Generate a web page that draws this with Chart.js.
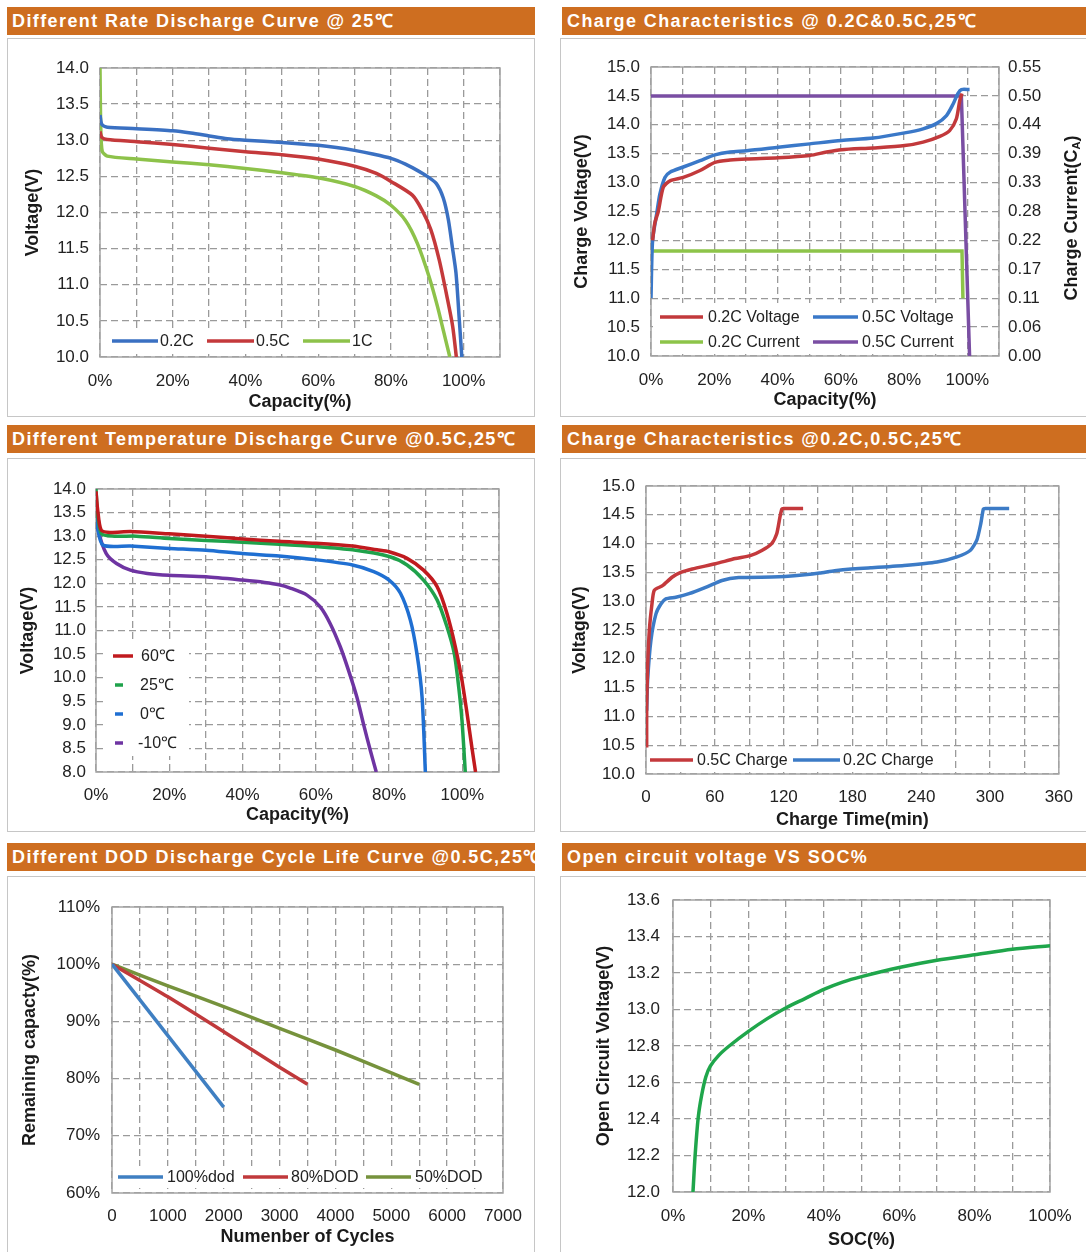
<!DOCTYPE html>
<html><head><meta charset="utf-8">
<script src="https://cdn.jsdelivr.net/npm/chart.js@4.4.1/dist/chart.umd.min.js"></script>
<style>
html,body{margin:0;padding:0;background:#fff;}
body{width:1086px;height:1252px;position:relative;overflow:hidden;font-family:"Liberation Sans",Arial,sans-serif;}
.hdr{position:absolute;height:28px;line-height:29px;background:#CE6E20;color:#fff;font-weight:bold;font-size:18px;letter-spacing:1.4px;padding-left:5px;box-sizing:border-box;white-space:nowrap;overflow:hidden;}
.box{position:absolute;border:1px solid #c6c6c6;box-sizing:border-box;background:#fff;}
canvas{position:absolute;}
</style></head><body>
<div class="hdr" style="left:7px;top:7px;width:528px">Different Rate Discharge Curve @ 25℃</div>
<div class="hdr" style="left:562px;top:7px;width:524px">Charge Characteristics @ 0.2C&amp;0.5C,25℃</div>
<div class="hdr" style="left:7px;top:425px;width:528px">Different Temperature Discharge Curve @0.5C,25℃</div>
<div class="hdr" style="left:562px;top:425px;width:524px">Charge Characteristics @0.2C,0.5C,25℃</div>
<div class="hdr" style="left:7px;top:843px;width:528px">Different DOD Discharge Cycle Life Curve @0.5C,25℃</div>
<div class="hdr" style="left:562px;top:843px;width:524px">Open circuit voltage VS SOC%</div>

<div class="box" style="left:7px;top:38px;width:528px;height:379px"></div>
<div class="box" style="left:560px;top:38px;width:528px;height:379px"></div>
<div class="box" style="left:7px;top:458px;width:528px;height:374px"></div>
<div class="box" style="left:560px;top:458px;width:528px;height:374px"></div>
<div class="box" style="left:7px;top:876px;width:528px;height:380px"></div>
<div class="box" style="left:560px;top:876px;width:528px;height:380px"></div>

<canvas id="c1" width="528" height="379" style="left:7px;top:38px"></canvas>
<canvas id="c2" width="526" height="379" style="left:560px;top:38px"></canvas>
<canvas id="c3" width="528" height="374" style="left:7px;top:458px"></canvas>
<canvas id="c4" width="526" height="374" style="left:560px;top:458px"></canvas>
<canvas id="c5" width="528" height="376" style="left:7px;top:876px"></canvas>
<canvas id="c6" width="526" height="376" style="left:560px;top:876px"></canvas>

<script>
// ---------- Panel 1: Different Rate Discharge Curve ----------
const p1_capTicks = [0,10,20,30,40,50,60,70,80,90,100,110];
const p1_voltTicks = [10,10.5,11,11.5,12,12.5,13,13.5,14];
const p1_c02_cap = [0,0.5,2,10,20,25,30,35,40,50,60,65,70,75,80,84,87,90,92.5,94.4,95.8,96.9,97.9,98.8,99.5];
const p1_c02_v   = [13.35,13.22,13.18,13.16,13.13,13.10,13.06,13.02,13.0,12.97,12.93,12.90,12.86,12.81,12.75,12.67,12.59,12.50,12.40,12.20,11.90,11.52,11.16,10.52,10.0];
const p1_c05_cap = [0,0.5,2,10,20,30,40,50,60,70,76,80,85.9,88.6,91,93.3,95.6,97,98];
const p1_c05_v   = [13.12,13.04,13.01,12.98,12.94,12.89,12.84,12.80,12.74,12.64,12.54,12.43,12.24,12.03,11.76,11.34,10.79,10.42,10.0];
const p1_c1_cap  = [0,0.2,0.6,2,10,20,30,40,50,60,70,76,80,84,87.3,90.5,92.8,94.6,96.2];
const p1_c1_v    = [14.0,13.2,12.85,12.78,12.74,12.70,12.66,12.61,12.55,12.48,12.36,12.23,12.10,11.89,11.57,11.11,10.70,10.33,10.0];

// ---------- Panel 2: Charge Characteristics vs capacity ----------
const p2_capTicks = [0,10,20,30,40,50,60,70,80,90,100,110];
const p2_voltTicks = [10,10.5,11,11.5,12,12.5,13,13.5,14,14.5,15];
const p2_curTicks = [0,0.055,0.11,0.165,0.22,0.275,0.33,0.385,0.44,0.495,0.55];
const p2_curLabels = ['0.00','0.06','0.11','0.17','0.22','0.28','0.33','0.39','0.44','0.50','0.55'];
const p2_v02_cap = [0.5,1.2,2.3,3.9,6,10.2,15.5,20.2,25,30.2,40.2,50.2,55.5,60.2,70.2,80.2,86,91.3,94.4,96.5,97.6,98.3];
const p2_v02_v   = [12.0,12.3,12.5,12.92,13.03,13.09,13.21,13.35,13.39,13.41,13.43,13.47,13.53,13.57,13.60,13.64,13.70,13.80,13.90,14.10,14.42,14.54];
const p2_v05_cap = [0,0.5,1.8,2.8,4.4,6,10.2,15.5,20.2,25,30.2,40.2,50.2,60.2,70.2,80.2,86,90.2,93.4,95.5,97,98.1,100.7];
const p2_v05_v   = [11.0,12.0,12.46,12.8,13.09,13.18,13.27,13.38,13.48,13.53,13.55,13.61,13.67,13.73,13.77,13.86,13.93,14.02,14.16,14.36,14.54,14.61,14.61];
const p2_i02_cap = [0,98.3,98.6];
const p2_i02_c   = [0.2,0.2,0.11];
const p2_i05_cap = [0,98.1,100.7];
const p2_i05_c   = [0.495,0.495,0];

// ---------- Panel 3: Different Temperature Discharge ----------
const p3_capTicks = [0,10,20,30,40,50,60,70,80,90,100,110];
const p3_voltTicks = [8,8.5,9,9.5,10,10.5,11,11.5,12,12.5,13,13.5,14];
const p3_t60_cap = [0,0.4,1.4,3.8,9.4,20,30,40,50,60,70,76.7,80,84.9,89.4,93.1,95.8,98.1,99.9,101.3,102.6,103.6];
const p3_t60_v   = [13.95,13.6,13.13,13.08,13.10,13.05,13.0,12.94,12.89,12.85,12.79,12.71,12.67,12.53,12.28,11.93,11.36,10.65,9.94,9.23,8.52,8.0];
const p3_t25_cap = [0,0.4,1.5,5,11,20,30,40,50,60,70,80,84.9,89.4,93.1,95.8,97.8,99,99.9,100.8];
const p3_t25_v   = [14.0,13.5,13.05,13.0,13.0,12.95,12.91,12.87,12.83,12.78,12.71,12.57,12.39,12.07,11.65,11.08,10.51,9.80,9.09,8.0];
const p3_t0_cap  = [0,0.4,1.9,9.4,20,30,40,50,60,70,75.8,80,83.1,85.8,87.6,89,89.9];
const p3_t0_v    = [13.65,13.2,12.81,12.79,12.74,12.70,12.63,12.58,12.50,12.39,12.25,12.07,11.79,11.22,10.51,9.59,8.0];
const p3_tm10_cap = [0,0.6,2.8,5.6,9.4,14,20,30,40,46,50,53,57.6,61.2,63.9,66.7,68.9,71.2,73,74.9,76.5];
const p3_tm10_v   = [13.56,13.13,12.63,12.42,12.28,12.21,12.17,12.14,12.07,12.02,11.97,11.9,11.75,11.5,11.15,10.65,10.16,9.59,9.02,8.45,8.0];

// ---------- Panel 4: Charge Characteristics vs time ----------
const p4_timeTicks = [0,30,60,90,120,150,180,210,240,270,300,330,360];
const p4_voltTicks = [10,10.5,11,11.5,12,12.5,13,13.5,14,14.5,15];
const p4_c05_t = [0.6,0.6,1.4,2.9,5.2,7.2,14.4,23,30.3,40.4,60.6,77.9,90.9,101,109.6,114,116.8,118.5,120,137];
const p4_c05_v = [10.46,11.16,11.85,12.49,12.95,13.19,13.27,13.42,13.5,13.56,13.65,13.74,13.79,13.88,14.0,14.17,14.46,14.6,14.61,14.61];
const p4_c02_t = [0.6,1.4,4.3,8.7,13,17.3,26,37.5,52,66.3,80.8,109.6,121,138.5,151.4,164.4,178.8,196,225,253.8,271.2,282.7,288.5,292,294.2,296,316.7];
const p4_c02_v = [11.1,11.62,12.32,12.78,12.95,13.04,13.07,13.13,13.24,13.36,13.41,13.42,13.43,13.46,13.49,13.53,13.56,13.58,13.62,13.68,13.77,13.88,14.06,14.35,14.6,14.61,14.61];

// ---------- Panel 5: DOD cycle life ----------
const p5_cycleTicks = [0,500,1000,1500,2000,2500,3000,3500,4000,4500,5000,5500,6000,6500,7000];
const p5_capTicks = [60,70,80,90,100,110];
const p5_d100_n = [0,2000];
const p5_d100_c = [100,75];
const p5_d80_n = [0,1000,2000,3000,3500];
const p5_d80_c = [100,94.3,88.2,82,79];
const p5_d50_n = [0,1000,2000,3000,4000,5000,5500];
const p5_d50_c = [100,96.2,92.6,88.8,85.0,81.0,79];

// ---------- Panel 6: OCV vs SOC ----------
const p6_socTicks = [0,10,20,30,40,50,60,70,80,90,100];
const p6_ocvTicks = [12.0,12.2,12.4,12.6,12.8,13.0,13.2,13.4,13.6];
const p6_soc = [5.3,5.9,6.7,7.6,8.7,9.9,12.2,14.9,20,25,30,35,40,45,50,60,70,80,90,100];
const p6_ocv = [12.0,12.21,12.41,12.53,12.63,12.69,12.75,12.80,12.88,12.95,13.01,13.06,13.11,13.15,13.18,13.23,13.27,13.30,13.33,13.35];

// ---------- helpers ----------
const FONT = '"Liberation Sans", Arial, sans-serif';
Chart.defaults.font.family = FONT;
const GRID = '#9a9a9a', TICK = '#222222', TITLE = '#1a1a1a';
const pts = (xs, ys) => xs.map((x, i) => ({x: x, y: ys[i]}));
const line = (label, xs, ys, color, tension, yAxisID) => ({
  label, data: pts(xs, ys), showLine: true, borderColor: color, backgroundColor: color,
  borderWidth: 3.5, pointRadius: 0, tension: tension, yAxisID: yAxisID || 'y'
});
const v1 = v => v.toFixed(1);
const pct20 = v => (v % 20 === 0 && v <= 100) ? v + '%' : '';

function xAxis(tickVals, fmt, title, h, tp, tb) {
  return {
    type: 'linear', position: 'bottom',
    min: tickVals[0], max: tickVals[tickVals.length - 1],
    afterBuildTicks: s => { s.ticks = tickVals.map(v => ({value: v})); },
    afterFit: s => { s.height = h; },
    grid: {color: GRID, lineWidth: 1.3, drawTicks: false},
    border: {display: false, dash: [7, 4]},
    ticks: {autoSkip: false, maxRotation: 0, padding: tp, color: TICK, font: {size: 17}, callback: fmt},
    title: {display: true, text: title, color: TITLE, font: {size: 18, weight: 'bold'}, padding: {top: 0, bottom: tb}}
  };
}
function yAxis(tickVals, fmt, title, w, tp, ttop, pos, grid) {
  return {
    type: 'linear', position: pos || 'left',
    min: tickVals[0], max: tickVals[tickVals.length - 1],
    afterBuildTicks: s => { s.ticks = tickVals.map(v => ({value: v})); },
    afterFit: s => { s.width = w; },
    grid: {display: grid !== false, color: GRID, lineWidth: 1.3, drawTicks: false},
    border: {display: false, dash: [7, 4]},
    ticks: {autoSkip: false, padding: tp, color: TICK, font: {size: 17}, callback: fmt},
    title: {display: !!title, text: title || '', color: TITLE, font: {size: 18, weight: 'bold'}, padding: {top: ttop, bottom: 0}}
  };
}
const framePlugin = {
  id: 'frame',
  beforeDatasetsDraw(chart) {
    const a = chart.chartArea, ctx = chart.ctx;
    ctx.save(); ctx.strokeStyle = '#a4a4a4'; ctx.lineWidth = 1.5;
    ctx.strokeRect(a.left, a.top, a.right - a.left, a.bottom - a.top);
    ctx.restore();
  }
};
function legendPlugin(id, box, items) {
  return {
    id,
    beforeDatasetsDraw(chart) {
      const ctx = chart.ctx; ctx.save();
      ctx.fillStyle = '#fff'; ctx.fillRect(box.x, box.y, box.w, box.h);
      items.forEach(it => {
        const ds = chart.data.datasets[it.ds];
        ctx.strokeStyle = ds.borderColor; ctx.lineWidth = 3.5; ctx.lineCap = 'butt';
        ctx.beginPath(); ctx.moveTo(it.x1, it.y); ctx.lineTo(it.x2, it.y); ctx.stroke();
        ctx.fillStyle = '#222'; ctx.font = '16px ' + FONT; ctx.textBaseline = 'middle'; ctx.textAlign = 'left';
        ctx.fillText(ds.label, it.tx, it.y + 1);
      });
      ctx.restore();
    }
  };
}
function baseOpts(pad, scales) {
  return {
    responsive: false, animation: false, devicePixelRatio: 1,
    layout: {padding: pad},
    plugins: {legend: {display: false}, tooltip: {enabled: false}},
    scales: scales
  };
}

// ---------- Chart 1 ----------
new Chart(document.getElementById('c1'), {
  type: 'scatter',
  data: {datasets: [
    line('0.2C', p1_c02_cap, p1_c02_v, '#3A70C2', 0.25),
    line('0.5C', p1_c05_cap, p1_c05_v, '#C4393B', 0.25),
    line('1C', p1_c1_cap, p1_c1_v, '#8DC24A', 0.25)
  ]},
  options: baseOpts({top: 30, right: 35, left: 0, bottom: 0}, {
    x: xAxis(p1_capTicks, pct20, 'Capacity(%)', 60, 14, 4),
    y: yAxis(p1_voltTicks, v1, 'Voltage(V)', 93, 11, 15)
  }),
  plugins: [framePlugin, legendPlugin('lg1', {x: 98, y: 292, w: 285, h: 22}, [
    {ds: 0, x1: 105, x2: 151, tx: 153, y: 303},
    {ds: 1, x1: 200, x2: 247, tx: 249, y: 303},
    {ds: 2, x1: 296, x2: 343, tx: 345, y: 303}
  ])]
});

// ---------- Chart 2 ----------
const rightTitlePlugin = {
  id: 'rtitle',
  afterDraw(chart) {
    const ctx = chart.ctx; ctx.save();
    ctx.translate(512, 180); ctx.rotate(-Math.PI / 2);
    ctx.fillStyle = TITLE; ctx.textBaseline = 'middle'; ctx.textAlign = 'left';
    const big = 'bold 18px ' + FONT, small = 'bold 11px ' + FONT;
    ctx.font = big; const w1 = ctx.measureText('Charge Current(C').width; const w3 = ctx.measureText(')').width;
    ctx.font = small; const w2 = ctx.measureText('A').width;
    let x = -(w1 + w2 + w3) / 2;
    ctx.font = big; ctx.fillText('Charge Current(C', x, 0); x += w1;
    ctx.font = small; ctx.fillText('A', x, 5); x += w2;
    ctx.font = big; ctx.fillText(')', x, 0);
    ctx.restore();
  }
};
new Chart(document.getElementById('c2'), {
  type: 'scatter',
  data: {datasets: [
    line('0.2C Voltage', p2_v02_cap, p2_v02_v, '#C2393B', 0.25),
    line('0.5C Voltage', p2_v05_cap, p2_v05_v, '#3A78C8', 0.25),
    line('0.2C Current', p2_i02_cap, p2_i02_c, '#8DC449', 0, 'y2'),
    line('0.5C Current', p2_i05_cap, p2_i05_c, '#7A4EA3', 0, 'y2')
  ]},
  options: baseOpts({top: 29, right: 0, left: 0, bottom: 0}, {
    x: xAxis(p2_capTicks, pct20, 'Capacity(%)', 61, 14, 6),
    y: yAxis(p2_voltTicks, v1, 'Charge Voltage(V)', 91, 11, 11),
    y2: yAxis(p2_curTicks, (v, i) => p2_curLabels[i], '', 87, 9, 0, 'right', false)
  }),
  plugins: [framePlugin, legendPlugin('lg2', {x: 93, y: 265, w: 309, h: 51}, [
    {ds: 0, x1: 100, x2: 143, tx: 148, y: 279},
    {ds: 1, x1: 253, x2: 298, tx: 302, y: 279},
    {ds: 2, x1: 100, x2: 143, tx: 148, y: 304},
    {ds: 3, x1: 253, x2: 298, tx: 302, y: 304}
  ]), rightTitlePlugin]
});

// ---------- Chart 3 ----------
new Chart(document.getElementById('c3'), {
  type: 'scatter',
  data: {datasets: [
    line('60℃', p3_t60_cap, p3_t60_v, '#C01A1E', 0.25),
    line('25℃', p3_t25_cap, p3_t25_v, '#1FA24B', 0.25),
    line('0℃', p3_t0_cap, p3_t0_v, '#1F6FD2', 0.25),
    line('-10℃', p3_tm10_cap, p3_tm10_v, '#6E34A2', 0.25)
  ]},
  options: baseOpts({top: 31, right: 36, left: 0, bottom: 0}, {
    x: xAxis(p3_capTicks, pct20, 'Capacity(%)', 60, 13, 6),
    y: yAxis(p3_voltTicks, v1, 'Voltage(V)', 89, 10, 10)
  }),
  plugins: [framePlugin, legendPlugin('lg3', {x: 96, y: 185, w: 86, h: 113}, [
    {ds: 0, x1: 106, x2: 126, tx: 134, y: 198},
    {ds: 1, x1: 108, x2: 116, tx: 133, y: 227},
    {ds: 2, x1: 108, x2: 116, tx: 133, y: 256},
    {ds: 3, x1: 108, x2: 116, tx: 131, y: 285}
  ])]
});

// ---------- Chart 4 ----------
new Chart(document.getElementById('c4'), {
  type: 'scatter',
  data: {datasets: [
    line('0.5C Charge', p4_c05_t, p4_c05_v, '#C4393C', 0.2),
    line('0.2C Charge', p4_c02_t, p4_c02_v, '#3C7BC6', 0.2)
  ]},
  options: baseOpts({top: 28, right: 23, left: 0, bottom: 0}, {
    x: xAxis(p4_timeTicks, v => v % 60 === 0 ? String(v) : '', 'Charge Time(min)', 58, 13, 1),
    y: yAxis(p4_voltTicks, v1, 'Voltage(V)', 86, 11, 9)
  }),
  plugins: [framePlugin, legendPlugin('lg4', {x: 88, y: 292, w: 292, h: 21}, [
    {ds: 0, x1: 90, x2: 133, tx: 137, y: 302},
    {ds: 1, x1: 233, x2: 280, tx: 283, y: 302}
  ])]
});

// ---------- Chart 5 ----------
new Chart(document.getElementById('c5'), {
  type: 'scatter',
  data: {datasets: [
    line('100%dod', p5_d100_n, p5_d100_c, '#3F7FC2', 0),
    line('80%DOD', p5_d80_n, p5_d80_c, '#C0393B', 0.2),
    line('50%DOD', p5_d50_n, p5_d50_c, '#76923C', 0.2)
  ]},
  options: baseOpts({top: 31, right: 32, left: 0, bottom: 0}, {
    x: xAxis(p5_cycleTicks, v => v % 1000 === 0 ? String(v) : '', 'Numenber of Cycles', 59, 13, 4),
    y: yAxis(p5_capTicks, v => v + '%', 'Remaining capacty(%)', 105, 12, 12)
  }),
  plugins: [framePlugin, legendPlugin('lg5', {x: 108, y: 290, w: 375, h: 22}, [
    {ds: 0, x1: 111, x2: 156, tx: 160, y: 301},
    {ds: 1, x1: 236, x2: 281, tx: 284, y: 301},
    {ds: 2, x1: 359, x2: 404, tx: 408, y: 301}
  ])]
});

// ---------- Chart 6 ----------
new Chart(document.getElementById('c6'), {
  type: 'scatter',
  data: {datasets: [
    line('OCV', p6_soc, p6_ocv, '#1FA64B', 0.3)
  ]},
  options: baseOpts({top: 24, right: 36, left: 0, bottom: 0}, {
    x: xAxis(p6_socTicks, pct20, 'SOC(%)', 60, 14, 1),
    y: yAxis(p6_ocvTicks, v1, 'Open Circuit Voltage(V)', 113, 13, 33)
  }),
  plugins: [framePlugin]
});
</script>
</body></html>
